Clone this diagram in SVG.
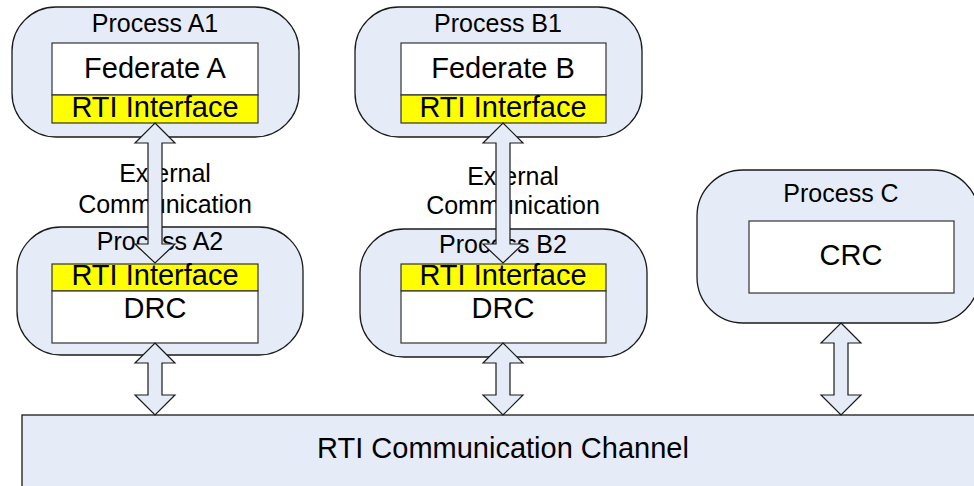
<svg xmlns="http://www.w3.org/2000/svg" width="974" height="486" viewBox="0 0 974 486">
  <style>
    .proc { fill: #e6ecf7; stroke: #1a1a1a; stroke-width: 1.3; }
    .box { fill: #ffffff; stroke: #333333; stroke-width: 1.2; }
    .rti { fill: #ffff00; stroke: #333333; stroke-width: 1.2; }
    .arrow { fill: #e6ecf7; stroke: #1a1a1a; stroke-width: 1.2; stroke-linejoin: miter; }
    text { font-family: "Liberation Sans", Arial, sans-serif; fill: #000000; text-anchor: middle; }
    .t24 { font-size: 25px; }
    .t28 { font-size: 29px; }
  </style>

  <!-- shared RTI channel -->
  <g id="channel">
    <rect class="proc" x="22" y="415" width="970" height="90"/>
    <text class="t28" x="503" y="458">RTI Communication Channel</text>
  </g>

  <g id="processA1">
    <rect class="proc" x="12" y="7" width="287" height="130" rx="44" ry="44"/>
    <text class="t24" x="155" y="32">Process A1</text>
    <rect class="box" x="52" y="43" width="206" height="52"/>
    <text class="t28" x="155" y="78">Federate A</text>
    <rect class="rti" x="52" y="95" width="206" height="28"/>
    <text class="t28" x="155" y="117">RTI Interface</text>
  </g>

  <g id="processB1">
    <rect class="proc" x="355" y="7" width="287" height="130" rx="44" ry="44"/>
    <text class="t24" x="498" y="32">Process B1</text>
    <rect class="box" x="401" y="43" width="205" height="52"/>
    <text class="t28" x="503" y="78">Federate B</text>
    <rect class="rti" x="401" y="95" width="205" height="28"/>
    <text class="t28" x="503" y="117">RTI Interface</text>
  </g>

  <g id="processA2">
    <rect class="proc" x="17" y="227" width="286" height="128" rx="44" ry="44"/>
    <text class="t24" x="160" y="250">Process A2</text>
    <rect class="rti" x="52" y="264" width="206" height="27"/>
    <text class="t28" x="155" y="285">RTI Interface</text>
    <rect class="box" x="52" y="291" width="206" height="52"/>
    <text class="t28" x="155" y="318">DRC</text>
  </g>

  <g id="processB2">
    <rect class="proc" x="360" y="229" width="287" height="128" rx="44" ry="44"/>
    <text class="t24" x="503" y="253">Process B2</text>
    <rect class="rti" x="401" y="264" width="205" height="27"/>
    <text class="t28" x="503" y="285">RTI Interface</text>
    <rect class="box" x="401" y="291" width="205" height="52"/>
    <text class="t28" x="503" y="318">DRC</text>
  </g>

  <g id="processC">
    <rect class="proc" x="697" y="170" width="282" height="153" rx="46" ry="46"/>
    <text class="t24" x="841" y="202">Process C</text>
    <rect class="box" x="749" y="221" width="205" height="72"/>
    <text class="t28" x="851" y="265">CRC</text>
  </g>

  <!-- labels of the external links -->
  <g id="labels">
    <text class="t24" x="165" y="182">External</text>
    <text class="t24" x="165" y="213">Communication</text>
    <text class="t24" x="513" y="185">External</text>
    <text class="t24" x="513" y="214">Communication</text>
  </g>

  <!-- double-headed block arrows -->
  <g id="connectors">
    <polygon class="arrow" points="155,123 175,143 162,143 162,244 175,244 155,263 135,244 148,244 148,143 135,143"/>
    <polygon class="arrow" points="503,123 523,143 510,143 510,244 523,244 503,263 483,244 496,244 496,143 483,143"/>
    <polygon class="arrow" points="155,343 175,363 162,363 162,395 175,395 155,415 135,395 148,395 148,363 135,363"/>
    <polygon class="arrow" points="503,343 523,363 510,363 510,395 523,395 503,415 483,395 496,395 496,363 483,363"/>
    <polygon class="arrow" points="841,323 861,343 848,343 848,395 861,395 841,415 821,395 834,395 834,343 821,343"/>
  </g>
</svg>
